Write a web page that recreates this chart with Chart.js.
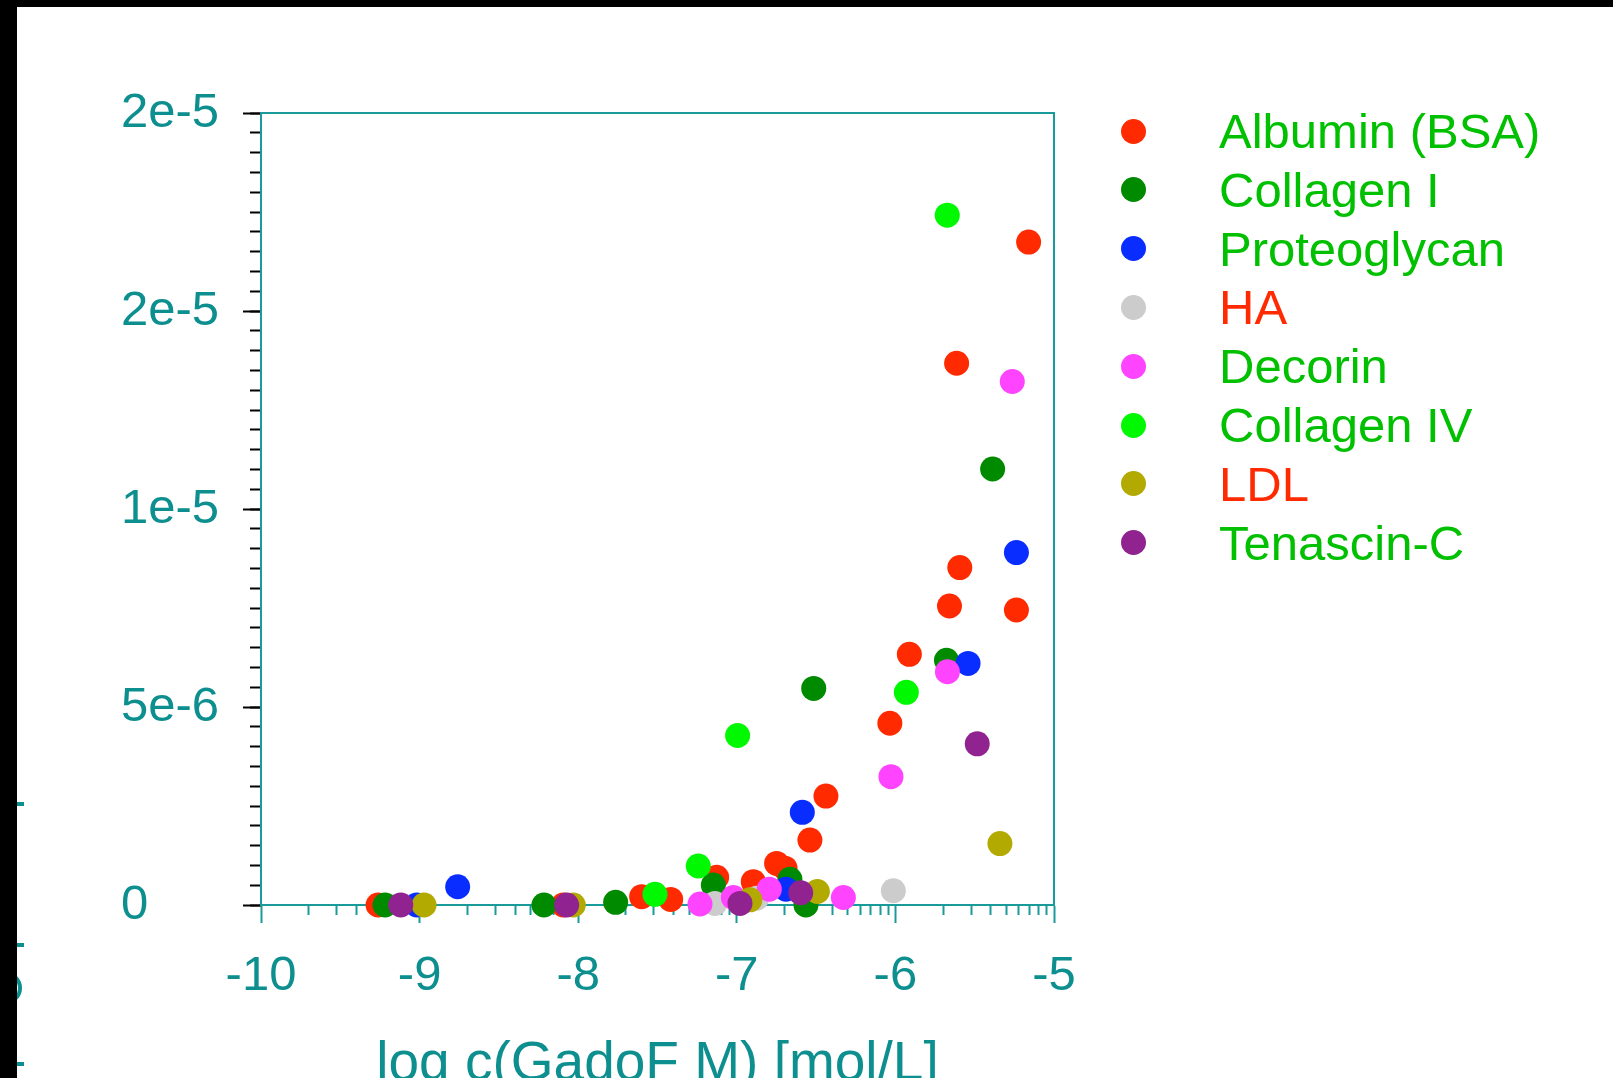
<!DOCTYPE html>
<html>
<head>
<meta charset="utf-8">
<title>GadoF binding</title>
<script src="https://cdn.jsdelivr.net/npm/chart.js@4.4.1/dist/chart.umd.min.js"></script>
<style>
  html, body { margin: 0; padding: 0; background: #fff; overflow: hidden; }
  body { width: 1613px; height: 1078px; position: relative; font-family: "Liberation Sans", Arial, sans-serif; }
  #chartWrap { position: absolute; left: 0; top: 0; width: 1613px; height: 1120px; }
  .bar-top { position: absolute; left: 0; top: 0; width: 1613px; height: 7px; background: #000; z-index: 5; }
  .bar-left { position: absolute; left: 0; top: 0; width: 17px; height: 1078px; background: #000; z-index: 5; }
  .stub { position: absolute; left: 17px; width: 7px; height: 4px; background: #0e8f8f; z-index: 4; }
  .arc { position: absolute; left: -8px; top: 972px; width: 30px; height: 32px; border: 4px solid #0e8f8f; border-radius: 50%; box-sizing: border-box; z-index: 4; }
  .item { position: absolute; left: 1121px; height: 59px; display: flex; align-items: center; font-size: 49px; white-space: nowrap; }
  .dot { width: 25px; height: 25px; border-radius: 50%; margin-right: 73px; flex: none; }
</style>
</head>
<body>
<div class="bar-top"></div>
<div class="bar-left"></div>
<div class="stub" style="top:802px"></div>
<div class="stub" style="top:943px"></div>
<div class="arc"></div>
<div class="stub" style="top:1062px"></div>
<div id="chartWrap"><canvas id="bindingChart" width="1613" height="1120"></canvas></div>
<div id="legend"></div>

<script>
// Series names and colours
const seriesNames = ['Albumin (BSA)', 'Collagen I', 'Proteoglycan', 'HA', 'Decorin', 'Collagen IV', 'LDL', 'Tenascin-C'];
const pointColors = ['#ff2a00', '#008a00', '#0a2dff', '#cccccc', '#ff44ff', '#00f800', '#b2aa00', '#902390'];
const legendTextColors = ['#00c000', '#00c000', '#00c000', '#ff2a00', '#00c000', '#00c000', '#ff2a00', '#00c000'];

// Data: x = log c, y = bound amount
const albuminX = [-9.262, -8.094, -7.600, -7.417, -7.127, -6.896, -6.749, -6.696, -6.539, -6.438, -6.035, -5.912, -5.659, -5.594, -5.614, -5.237, -5.160];
const albuminY = [0, 0, 2.1e-7, 1.4e-7, 7.0e-7, 5.9e-7, 1.05e-6, 9.3e-7, 1.64e-6, 2.75e-6, 4.59e-6, 6.33e-6, 7.55e-6, 8.52e-6, 1.368e-5, 7.45e-6, 1.674e-5];
const collagen1X = [-9.218, -8.216, -7.764, -7.148, -6.665, -6.564, -6.515, -5.678, -5.387];
const collagen1Y = [0, 0, 6.8e-8, 5.05e-7, 6.5e-7, 0, 5.47e-6, 6.18e-6, 1.101e-5];
const proteoglycanX = [-9.018, -8.760, -6.690, -6.587, -5.542, -5.237];
const proteoglycanY = [0, 4.6e-7, 4.0e-7, 2.34e-6, 6.10e-6, 8.90e-6];
const haX = [-7.138, -6.875, -6.013];
const haY = [4e-8, 1.7e-7, 3.6e-7];
const decorinX = [-7.232, -7.022, -6.795, -6.328, -6.028, -5.672, -5.263];
const decorinY = [2.5e-8, 1.9e-7, 4.0e-7, 1.9e-7, 3.24e-6, 5.89e-6, 1.322e-5];
const collagen4X = [-7.516, -7.243, -6.995, -5.931, -5.673];
const collagen4Y = [2.7e-7, 9.85e-7, 4.28e-6, 5.37e-6, 1.742e-5];
const ldlX = [-8.972, -8.031, -6.917, -6.492, -5.341];
const ldlY = [0, 0, 1.3e-7, 3.4e-7, 1.55e-6];
const tenascinX = [-9.119, -8.073, -6.980, -6.597, -5.484];
const tenascinY = [0, 0, 4e-8, 3.1e-7, 4.07e-6];

const seriesX = [albuminX, collagen1X, proteoglycanX, haX, decorinX, collagen4X, ldlX, tenascinX];
const seriesY = [albuminY, collagen1Y, proteoglycanY, haY, decorinY, collagen4Y, ldlY, tenascinY];

// Axis ticks
const xMajorTicks = [-10, -9, -8, -7, -6, -5];
const xMinorFactors = [2, 3, 4, 5, 6, 7, 8, 9];
const yTickValues = [0, 5e-6, 1e-5, 1.5e-5, 2e-5];
const yTickLabels = ['0', '5e-6', '1e-5', '2e-5', '2e-5'];
const yMinorStep = 5e-7;

const TEAL_TEXT = '#0e8f8f';
const TEAL_LINE = '#1a9b9b';
const FONT = '"Liberation Sans", Arial, sans-serif';
const CANVAS_H = 1120;

const xMinorTicks = [];
xMajorTicks.slice(0, -1).forEach(d => {
    xMinorFactors.forEach(k => xMinorTicks.push(d + Math.log10(k)));
});
const yMinorTicks = [];
for (let i = 0; i <= 40; i++) yMinorTicks.push(i * yMinorStep);

const datasets = seriesNames.map((name, i) => ({
    label: name,
    data: seriesX[i].map((x, j) => ({ x: x, y: seriesY[i][j] })),
    backgroundColor: pointColors[i],
    pointBackgroundColor: pointColors[i],
    pointBorderWidth: 0,
    pointRadius: 12.5,
    pointHoverRadius: 12.5,
    showLine: false,
    clip: false,
    order: seriesNames.length - i
}));

function setTicks(values) {
    return function(scale) {
        scale.ticks = values.map(v => ({ value: v }));
    };
}

const bindingChart = new Chart(document.getElementById('bindingChart'), {
    type: 'scatter',
    data: { datasets: datasets },
    options: {
        responsive: false,
        animation: false,
        layout: { padding: { left: 121, top: 113, right: 559, bottom: 0 } },
        plugins: {
            legend: { display: false },
            tooltip: { enabled: false }
        },
        scales: {
            x: {
                type: 'linear', position: 'bottom', weight: 1,
                min: -10, max: -5,
                afterBuildTicks: setTicks(xMajorTicks),
                afterFit: scale => { scale.height = CANVAS_H - 905; },
                ticks: {
                    color: TEAL_TEXT, font: { family: FONT, size: 49 },
                    padding: 24, maxRotation: 0, autoSkip: false,
                    callback: value => String(value)
                },
                grid: { drawOnChartArea: false, tickLength: 18, tickColor: TEAL_LINE, tickWidth: 2 },
                border: { display: true, color: TEAL_LINE, width: 2 },
                title: {
                    display: true, text: 'log c(GadoF M) [mol/L]',
                    color: TEAL_TEXT, font: { family: FONT, size: 55 },
                    padding: { top: 0, bottom: 22 }
                }
            },
            xMinor: {
                type: 'linear', position: 'bottom', weight: 0,
                min: -10, max: -5,
                afterBuildTicks: setTicks(xMinorTicks),
                afterFit: scale => { scale.height = 0; },
                ticks: { display: false },
                grid: { drawOnChartArea: false, tickLength: 10, tickColor: TEAL_LINE, tickWidth: 2 },
                border: { display: false }
            },
            xTop: {
                type: 'linear', position: 'top',
                min: -10, max: -5,
                afterFit: scale => { scale.height = 0; },
                ticks: { display: false },
                grid: { drawOnChartArea: false, drawTicks: false },
                border: { display: true, color: TEAL_LINE, width: 2 }
            },
            y: {
                type: 'linear', position: 'left', weight: 1,
                min: 0, max: 2e-5,
                afterBuildTicks: setTicks(yTickValues),
                afterFit: scale => { scale.width = 261 - 121; },
                ticks: {
                    color: TEAL_TEXT, font: { family: FONT, size: 49 },
                    padding: 25, autoSkip: false, crossAlign: 'far',
                    callback: (value, index) => yTickLabels[index]
                },
                grid: { drawOnChartArea: false, tickLength: 18, tickColor: '#000', tickWidth: 2 },
                border: { display: true, color: TEAL_LINE, width: 2 }
            },
            yMinor: {
                type: 'linear', position: 'left', weight: 0,
                min: 0, max: 2e-5,
                afterBuildTicks: setTicks(yMinorTicks),
                afterFit: scale => { scale.width = 0; },
                ticks: { display: false },
                grid: { drawOnChartArea: false, tickLength: 11, tickColor: '#000', tickWidth: 2 },
                border: { display: false }
            },
            yRight: {
                type: 'linear', position: 'right',
                min: 0, max: 2e-5,
                afterFit: scale => { scale.width = 0; },
                ticks: { display: false },
                grid: { drawOnChartArea: false, drawTicks: false },
                border: { display: true, color: TEAL_LINE, width: 2 }
            }
        }
    }
});

// Legend, built from the same series arrays
const legend = document.getElementById('legend');
seriesNames.forEach((name, i) => {
    const item = document.createElement('div');
    item.className = 'item';
    item.style.top = (131 + 58.8 * i - 29.5) + 'px';
    const dot = document.createElement('span');
    dot.className = 'dot';
    dot.style.background = pointColors[i];
    const text = document.createElement('span');
    text.textContent = name;
    text.style.color = legendTextColors[i];
    item.appendChild(dot);
    item.appendChild(text);
    legend.appendChild(item);
});
</script>
</body>
</html>
